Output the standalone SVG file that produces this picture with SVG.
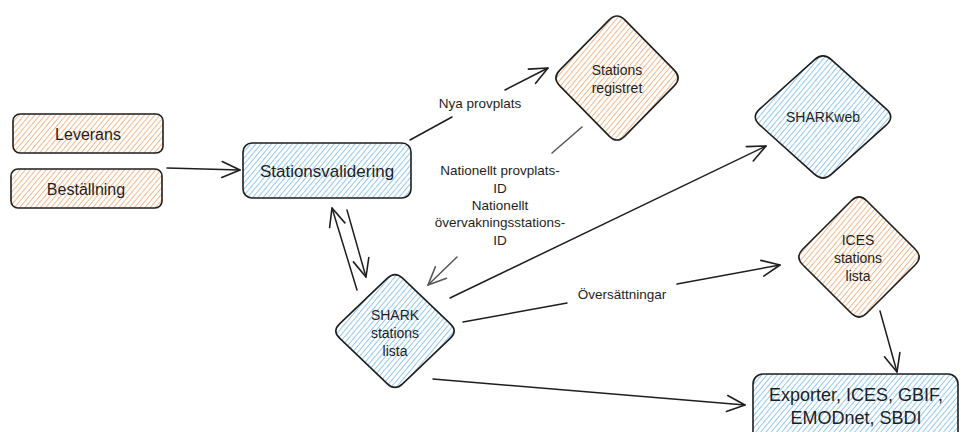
<svg xmlns="http://www.w3.org/2000/svg" width="961" height="432" viewBox="0 0 961 432">
<defs>
<pattern id="hOrange" patternUnits="userSpaceOnUse" width="4" height="4" patternTransform="rotate(40)">
<rect width="4" height="4" fill="#fff"/>
<line x1="0" y1="0" x2="0" y2="4" stroke="#f4b98c" stroke-width="2"/>
</pattern>
<pattern id="hBlue" patternUnits="userSpaceOnUse" width="4" height="4" patternTransform="rotate(40)">
<rect width="4" height="4" fill="#fff"/>
<line x1="0" y1="0" x2="0" y2="4" stroke="#93c8f0" stroke-width="2"/>
</pattern>
<marker id="arr" markerUnits="userSpaceOnUse" markerWidth="22" markerHeight="22" viewBox="0 0 22 22" refX="20" refY="11" orient="auto">
<path d="M2,3 L20,11 L2,19" fill="none" stroke="#1e1e1e" stroke-width="1.6" stroke-linecap="round" stroke-linejoin="round"/>
</marker>
<marker id="arrG" markerUnits="userSpaceOnUse" markerWidth="22" markerHeight="22" viewBox="0 0 22 22" refX="20" refY="11" orient="auto">
<path d="M2,3 L20,11 L2,19" fill="none" stroke="#555" stroke-width="1.6" stroke-linecap="round" stroke-linejoin="round"/>
</marker>
</defs>
<style>
.box{stroke:#1e1e1e;stroke-width:1.6}
.o{fill:url(#hOrange)}
.b{fill:url(#hBlue)}
.t{font-family:"Liberation Sans",Arial,sans-serif;fill:#1e1e1e;text-anchor:middle;dominant-baseline:central}
.ln{fill:none;stroke:#1e1e1e;stroke-width:1.5;stroke-linecap:round}
.lg{fill:none;stroke:#555;stroke-width:1.5;stroke-linecap:round}
</style>
<rect width="961" height="432" fill="#fff"/>

<g id="connectors">
<line class="ln" x1="167" y1="168" x2="240" y2="170" marker-end="url(#arr)"/>
<line class="ln" x1="410" y1="140" x2="452" y2="117"/>
<line class="ln" x1="505" y1="90" x2="548" y2="68" marker-end="url(#arr)"/>
<line class="lg" x1="582" y1="127" x2="552" y2="153"/>
<line class="lg" x1="457" y1="257" x2="428" y2="285" marker-end="url(#arrG)"/>
<line class="ln" x1="357" y1="290" x2="332" y2="208" marker-end="url(#arr)"/>
<line class="ln" x1="347" y1="210" x2="366" y2="277" marker-end="url(#arr)"/>
<line class="ln" x1="450" y1="298" x2="766" y2="146" marker-end="url(#arr)"/>
<line class="ln" x1="463" y1="322" x2="567" y2="303"/>
<line class="ln" x1="677" y1="284" x2="780" y2="265" marker-end="url(#arr)"/>
<line class="ln" x1="433" y1="379" x2="745" y2="405" marker-end="url(#arr)"/>
<line class="ln" x1="880" y1="311" x2="897" y2="372" marker-end="url(#arr)"/>
<text class="t" x="480" y="103" font-size="13.5">Nya provplats</text>
<text class="t" font-size="13.5"><tspan x="500" y="170">Nationellt provplats-</tspan><tspan x="500" y="188">ID</tspan><tspan x="500" y="205">Nationellt</tspan><tspan x="500" y="222">övervakningsstations-</tspan><tspan x="500" y="240">ID</tspan></text>
<text class="t" x="622" y="294" font-size="13.5">Översättningar</text>
</g>

<g id="leverans">
<rect class="box o" x="13" y="114" width="150" height="39" rx="7"/>
<text class="t" x="88" y="134" font-size="16">Leverans</text>
</g>
<g id="bestallning">
<rect class="box o" x="11" y="169" width="151" height="39" rx="7"/>
<text class="t" x="86" y="189" font-size="16">Beställning</text>
</g>
<g id="stationsvalidering">
<rect class="box b" x="243" y="143" width="168" height="55" rx="9"/>
<text class="t" x="327" y="171" font-size="17">Stationsvalidering</text>
</g>
<g id="stationsregistret">
<path class="box o" d="M 609.2,19.9 Q 617,12 624.8,19.9 L 674.2,70.1 Q 682,78 674.2,85.9 L 624.8,136.1 Q 617,144 609.2,136.1 L 559.8,85.9 Q 552,78 559.8,70.1 Z"/>
<text class="t" font-size="14"><tspan x="617" y="70">Stations</tspan><tspan x="617" y="88">registret</tspan></text>
</g>
<g id="sharkstationslista">
<path class="box b" d="M 387.4,278.2 Q 395,271 402.6,278.2 L 450.4,323.8 Q 458,331 450.4,338.2 L 402.6,383.8 Q 395,391 387.4,383.8 L 339.6,338.2 Q 332,331 339.6,323.8 Z"/>
<text class="t" font-size="14"><tspan x="395" y="315">SHARK</tspan><tspan x="395" y="333">stations</tspan><tspan x="395" y="351">lista</tspan></text>
</g>
<g id="sharkweb">
<path class="box b" d="M 814.4,59.8 Q 823,52 831.6,59.8 L 886.4,109.2 Q 895,117 886.4,124.8 L 831.6,174.2 Q 823,182 814.4,174.2 L 759.6,124.8 Q 751,117 759.6,109.2 Z"/>
<text class="t" x="823" y="117" font-size="14">SHARKweb</text>
</g>
<g id="icesstationslista">
<path class="box o" d="M 851.3,200.7 Q 859,193 866.7,200.7 L 915.3,249.3 Q 923,257 915.3,264.7 L 866.7,313.3 Q 859,321 851.3,313.3 L 802.7,264.7 Q 795,257 802.7,249.3 Z"/>
<text class="t" font-size="14"><tspan x="858" y="240">ICES</tspan><tspan x="858" y="258">stations</tspan><tspan x="858" y="276">lista</tspan></text>
</g>
<g id="exporter">
<rect class="box b" x="753" y="374" width="205" height="70" rx="10"/>
<text class="t" font-size="18"><tspan x="856" y="395">Exporter, ICES, GBIF,</tspan><tspan x="856" y="418">EMODnet, SBDI</tspan></text>
</g>
</svg>
